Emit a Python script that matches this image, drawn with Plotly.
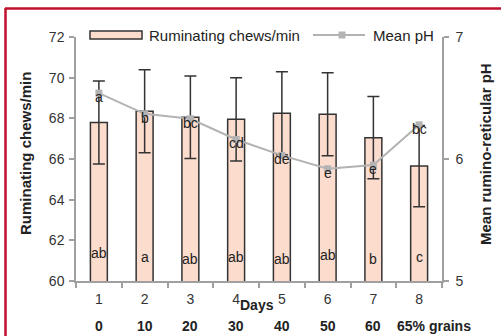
import plotly.graph_objects as go

days = ["1", "2", "3", "4", "5", "6", "7", "8"]
grain_labels = ["0", "10", "20", "30", "40", "50", "60", "65% grains"]
chews = [67.8, 68.35, 68.05, 67.95, 68.25, 68.2, 67.05, 65.65]
chews_err = [2.04, 2.04, 2.03, 2.05, 2.04, 2.04, 2.02, 2.0]
chews_letters = ["ab", "a", "ab", "ab", "ab", "ab", "b", "c"]
chews_letter_y = [61.4, 61.2, 61.1, 61.2, 61.1, 61.3, 61.1, 61.2]
ph = [6.54, 6.37, 6.33, 6.16, 6.03, 5.92, 5.95, 6.28]
ph_letters = ["a", "b", "bc", "cd", "de", "e", "e", "bc"]

W, H = 501, 336
L, R, T, B = 76, 59, 37, 55
PW, PH = W - L - R, H - T - B

def px(x):
    return (x - L) / PW

def py(y):
    return (H - B - y) / PH

FONT = "Arial, Liberation Sans, sans-serif"
TXT = "#222222"
AX = "#a0a0a0"

fig = go.Figure()
fig.add_trace(go.Bar(
    x=days, y=chews, width=0.37,
    marker=dict(color="#fcdccd", line=dict(color="#333333", width=1.5)),
    error_y=dict(type="data", array=chews_err, color="#333333", thickness=1.5, width=6),
    showlegend=False, yaxis="y",
))
fig.add_trace(go.Scatter(
    x=days, y=ph, mode="lines+markers", yaxis="y2",
    line=dict(color="#b3b3b3", width=2),
    marker=dict(symbol="square", size=7, color="#b3b3b3"),
    showlegend=False,
))

C = dict(xanchor="center", yanchor="middle", showarrow=False)
ann = []
for i, (t, yy) in enumerate(zip(chews_letters, chews_letter_y)):
    ann.append(dict(x=i, y=yy, xref="x", yref="y", text=t, **C,
                    font=dict(size=14, color=TXT, family=FONT)))
for i, (t, v) in enumerate(zip(ph_letters, ph)):
    ann.append(dict(x=i, y=v, xref="x", yref="y2", text=t, yshift=-4, **C,
                    font=dict(size=14, color=TXT, family=FONT)))
for i, g in enumerate(grain_labels):
    if i < 7:
        ann.append(dict(x=i, y=py(326), xref="x", yref="paper", text=g, **C,
                        font=dict(size=14, color=TXT, family=FONT, weight="bold")))
    else:
        ann.append(dict(x=px(395), y=py(326), xref="paper", yref="paper", text=g,
                        showarrow=False, xanchor="left", yanchor="middle",
                        font=dict(size=14, color=TXT, family=FONT, weight="bold")))
ann.append(dict(x=px(257), y=py(305), xref="paper", yref="paper", text="Days", **C,
                font=dict(size=14, color=TXT, family=FONT, weight="bold")))
ann.append(dict(x=px(25), y=py(154), xref="paper", yref="paper", text="Ruminating chews/min",
                textangle=-90, **C,
                font=dict(size=15, color=TXT, family=FONT, weight="bold")))
ann.append(dict(x=px(485), y=py(154), xref="paper", yref="paper", text="Mean rumino-reticular pH",
                textangle=-90, **C,
                font=dict(size=15, color=TXT, family=FONT, weight="bold")))
# legend texts
ann.append(dict(x=px(147), y=py(35), xref="paper", yref="paper", text="Ruminating chews/min",
                showarrow=False, xanchor="left", yanchor="middle",
                font=dict(size=15, color=TXT, family=FONT)))
ann.append(dict(x=px(371), y=py(35), xref="paper", yref="paper", text="Mean pH",
                showarrow=False, xanchor="left", yanchor="middle",
                font=dict(size=15, color=TXT, family=FONT)))

shapes = [
    # legend bar symbol
    dict(type="rect", xref="paper", yref="paper", x0=px(90), x1=px(142), y0=py(39), y1=py(31),
         fillcolor="#fcdccd", line=dict(color="#333333", width=1.5)),
    # legend line symbol
    dict(type="line", xref="paper", yref="paper", x0=px(313), x1=px(365), y0=py(35), y1=py(35),
         line=dict(color="#b3b3b3", width=2)),
    dict(type="rect", xref="paper", yref="paper", x0=px(338.5), x1=px(345.5), y0=py(38.5), y1=py(31.5),
         fillcolor="#b3b3b3", line=dict(width=0)),
    # red frame
    dict(type="line", xref="paper", yref="paper", x0=px(5), x1=px(505), y0=py(8.5), y1=py(8.5),
         line=dict(color="#c0102e", width=2.5)),
    dict(type="line", xref="paper", yref="paper", x0=px(5.5), x1=px(5.5), y0=py(8), y1=py(340),
         line=dict(color="#c0102e", width=2.5)),
]

fig.update_layout(
    width=W, height=H,
    margin=dict(l=L, r=R, t=T, b=B, pad=0),
    paper_bgcolor="white", plot_bgcolor="white",
    font=dict(family=FONT, color=TXT, size=14),
    bargap=0.63,
    xaxis=dict(type="category", range=[-0.5, 7.5], showline=True, linecolor=AX, linewidth=1.5,
               ticks="outside", tickson="boundaries", ticklen=5, tickcolor=AX, tickwidth=1.5,
               ticklabelstandoff=4,
               tickfont=dict(size=14, color="#333333"), showgrid=False, zeroline=False),
    yaxis=dict(range=[60, 72], tickvals=[60, 62, 64, 66, 68, 70, 72], showline=True,
               linecolor=AX, linewidth=1.5, ticks="outside", ticklen=5, tickcolor=AX, tickwidth=1.5,
               ticklabelstandoff=2,
               tickfont=dict(size=14, color="#333333"), showgrid=False, zeroline=False),
    yaxis2=dict(range=[5, 7], tickvals=[5, 6, 7], overlaying="y", side="right", showline=True,
                linecolor=AX, linewidth=1.5, ticks="outside", ticklen=5, tickcolor=AX, tickwidth=1.5,
                ticklabelstandoff=4,
                tickfont=dict(size=14, color="#333333"), showgrid=False, zeroline=False),
    annotations=ann,
    shapes=shapes,
)

fig.write_html("out.html")
